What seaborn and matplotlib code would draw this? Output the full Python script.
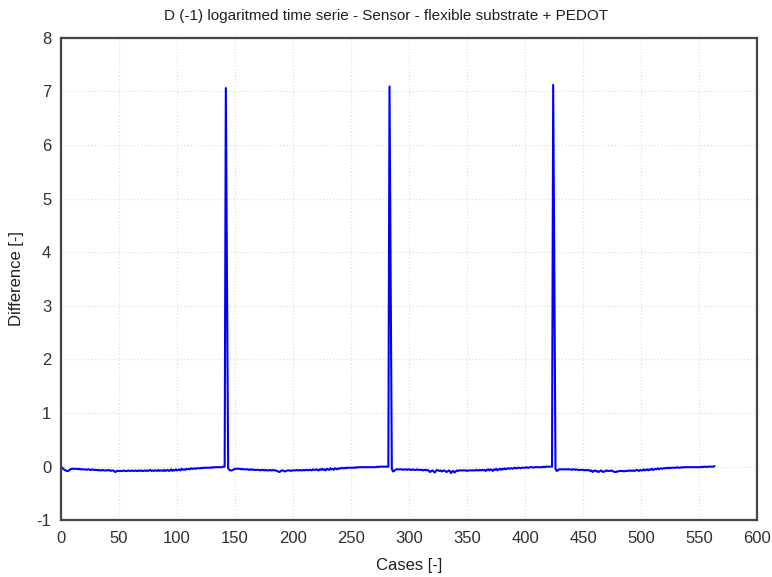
import numpy as np
import pandas as pd
import matplotlib
matplotlib.use("Agg")
import matplotlib.pyplot as plt
import seaborn as sns

# --- data (baseline values in hundredths) ---
seg_a = [0,-2,-4,-6,-7,-8,-8,-7,-5,-4,-4,-4,-4,-4,-4,-5,-4,-5,-5,-5,
         -5,-5,-6,-5,-5,-6,-6,-5,-6,-6,-6,-6,-7,-6,-7,-7,-6,-7,-7,-7,
         -7,-6,-7,-8,-7,-7,-9,-10,-8,-8,-8,-8,-8,-8,-7,-8,-8,-8,-7,-8,
         -8,-7,-8,-8,-7,-8,-8,-7,-8,-7,-8,-8,-7,-8,-7,-8,-7,-6,-8,-7,
         -8,-7,-7,-8,-6,-8,-7,-7,-8,-6,-8,-7,-6,-8,-7,-5,-8,-6,-7,-5,
         -7,-6,-5,-7,-4,-6,-5,-6,-4,-5,-4,-5,-3,-4,-4,-3,-4,-3,-3,-3,
         -3,-2,-3,-2,-2,-2,-2,-2,-2,-2,-1,-2,-1,-1,-1,-1,-1,-1,-1,-1,0,0]
spike_1 = [706, 353]
seg_b = [-3,-6,-7,-7,-6,-5,-4,-4,-4,-4,-4,-5,-4,-5,-5,-5,-5,-5,-6,-5,
         -6,-5,-6,-6,-6,-6,-6,-6,-7,-6,-6,-7,-6,-7,-7,-7,-6,-7,-7,-6,
         -7,-7,-8,-9,-10,-9,-7,-7,-8,-9,-8,-7,-7,-7,-8,-7,-7,-7,-7,-6,
         -7,-7,-6,-7,-7,-6,-7,-6,-6,-7,-6,-6,-7,-5,-6,-6,-5,-6,-7,-5,
         -6,-4,-6,-5,-7,-4,-5,-6,-3,-5,-4,-6,-3,-4,-5,-3,-4,-3,-2,-3,
         -3,-2,-3,-2,-2,-2,-2,-2,-2,-2,-1,-2,-1,-1,-1,-1,-1,-1,-1,-1,
         -1,-1,-1,-1,-1,-1,-1,-1,0,-1,0,0,0,0,0,0,0,0,0]
spike_2 = [709, 353]
seg_c = [-4,-9,-8,-6,-5,-5,-5,-5,-5,-5,-6,-5,-5,-6,-5,-5,-6,-6,-5,-6,
         -6,-6,-5,-6,-6,-6,-6,-7,-6,-6,-7,-6,-8,-10,-8,-7,-9,-11,-8,-6,
         -7,-8,-7,-9,-8,-7,-8,-10,-9,-7,-8,-12,-9,-8,-11,-9,-7,-8,-7,-7,
         -7,-7,-7,-7,-7,-8,-7,-7,-7,-7,-7,-7,-7,-6,-7,-7,-6,-7,-6,-7,
         -6,-8,-6,-5,-7,-5,-6,-8,-5,-6,-4,-7,-5,-4,-6,-4,-5,-3,-5,-4,
         -3,-4,-3,-3,-4,-3,-2,-3,-3,-2,-2,-3,-2,-2,-2,-2,-1,-2,-2,-1,
         -1,-1,-2,-1,-1,-1,-1,-1,-1,-1,-1,0,-1,0,0,0,0,0,0]
spike_3 = [712, 354]
seg_d = [-4,-8,-7,-5,-5,-5,-5,-5,-5,-5,-5,-5,-5,-5,-6,-5,-5,-6,-5,-6,
         -6,-6,-6,-6,-6,-7,-6,-7,-6,-7,-8,-7,-10,-8,-7,-9,-8,-10,-9,-7,
         -8,-10,-9,-8,-7,-8,-8,-8,-7,-8,-9,-10,-10,-9,-9,-8,-8,-8,-8,-9,
         -8,-8,-8,-7,-8,-7,-8,-7,-8,-7,-6,-7,-8,-6,-7,-7,-5,-7,-6,-5,
         -7,-5,-6,-4,-6,-5,-4,-5,-3,-5,-4,-3,-4,-3,-3,-3,-2,-3,-2,-3,
         -2,-2,-2,-2,-2,-1,-2,-2,-1,-2,-1,-1,-1,-1,-1,-1,-1,-1,-1,-1,
         -1,-1,-1,-1,-1,-1,0,-1,0,0,-1,0,0,0,0,0,0,1]

x_ticks = [0, 50, 100, 150, 200, 250, 300, 350, 400, 450, 500, 550, 600]
y_ticks = [-1, 0, 1, 2, 3, 4, 5, 6, 7, 8]

values = np.array(seg_a + spike_1 + seg_b + spike_2 + seg_c + spike_3 + seg_d) / 100.0
df = pd.DataFrame({"case": np.arange(len(values)), "diff": values})

sns.set_style("white")
plt.rcParams['font.family'] = ['Liberation Sans', 'DejaVu Sans']
plt.rcParams['axes.unicode_minus'] = False

fig = plt.figure(figsize=(7.72, 5.77), dpi=100)
ax = fig.add_axes([0.0790, 0.0983, 0.9022, 0.8364])

sns.lineplot(data=df, x="case", y="diff", color="#0000ff", linewidth=1.5, ax=ax)

ax.set_xlim(0, 600)
ax.set_ylim(-1, 8)
ax.set_xticks(x_ticks)
ax.set_yticks(y_ticks)
ax.grid(True, color="#e0e0e0", linestyle=":", linewidth=0.9)
ax.set_axisbelow(True)

for s in ax.spines.values():
    s.set_color("#454545")
    s.set_linewidth(1.6)
    s.set_visible(True)

ax.tick_params(direction="in", length=3, width=1, color="#454545",
               labelsize=12, labelcolor="#303030", pad=8)
ax.tick_params(axis="y", pad=7)

fig.suptitle("D (-1) logaritmed time serie - Sensor - flexible substrate + PEDOT",
             x=0.5, y=0.972, ha="center", va="center",
             fontsize=11, color="#202020")
ax.set_xlabel("Cases [-]", fontsize=12, color="#202020", labelpad=8)
ax.set_ylabel("Difference [-]", fontsize=12, color="#202020", labelpad=9)

fig.savefig("out.png", dpi=100, facecolor="white")
